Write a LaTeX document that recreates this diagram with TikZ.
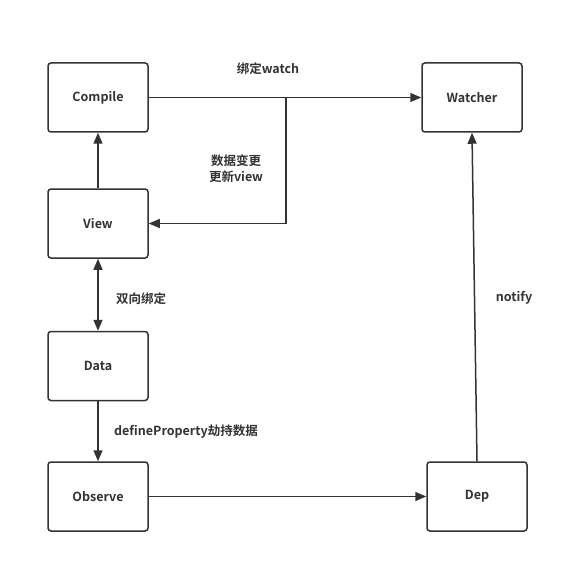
\documentclass[tikz,border=0pt]{standalone}
\usepackage{fontspec}
\setmainfont{Noto Sans CJK SC}[BoldFont={Noto Sans CJK SC Bold}]
\usetikzlibrary{arrows.meta}

\definecolor{vuecolor0000}{RGB}{51,51,51}
\definecolor{vuecolor0001}{RGB}{255,255,255}

\begin{document}
\begin{tikzpicture}[
  x = 1pt,
  y = -1pt,
  vstyle0/.style = {draw=vuecolor0000,fill=vuecolor0001,line width=1.5pt,rounded corners=3pt,
    minimum width=100pt,minimum height=69pt,inner sep=0pt,font=\bfseries\fontsize{12.5}{15}\selectfont,text=vuecolor0000},
  vstyle1/.style = {color=vuecolor0000,line width=1.5pt,-{Triangle[length=11pt,width=9pt]}},
  vstyle2/.style = {color=vuecolor0000,line width=1.5pt,{Triangle[length=11pt,width=9pt]}-{Triangle[length=11pt,width=9pt]}},
  vstyle3/.style = {text=vuecolor0000,font=\bfseries\fontsize{12.5}{16}\selectfont,inner sep=0pt,align=center},
]
  \useasboundingbox (0,0) rectangle (583,564);
  \node[vstyle0] (compile) at (98,97.5) {Compile};
  \node[vstyle0] (watcher) at (472,97.5) {Watcher};
  \node[vstyle0] (view) at (98,223.5) {View};
  \node[vstyle0] (data) at (98,366) {Data};
  \node[vstyle0] (observe) at (98,496.5) {Observe};
  \node[vstyle0] (dep) at (477,496.5) {Dep};
  \coordinate (bind) at (286,97.5);
  \draw[vstyle1] (compile.east) -- (watcher.west);
  \draw[vstyle1] (view.north) -- (compile.south);
  \draw[vstyle1] (bind) |- (view.east);
  \draw[vstyle2] (view.south) -- (data.north);
  \draw[vstyle1] (data.south) -- (observe.north);
  \draw[vstyle1] (observe.east) -- (dep.west);
  \draw[vstyle1] (dep.north) -- (watcher.south);
  \node[vstyle3] (lbind) at (268,69) {绑定watch};
  \node[vstyle3] (lupdate) at (236,169) {数据变更\\更新view};
  \node[vstyle3] (ltwoway) at (141,299) {双向绑定};
  \node[vstyle3] (lnotify) at (514,298) {notify};
  \node[vstyle3] (ldefine) at (186,432) {defineProperty劫持数据};
\end{tikzpicture}
\end{document}
